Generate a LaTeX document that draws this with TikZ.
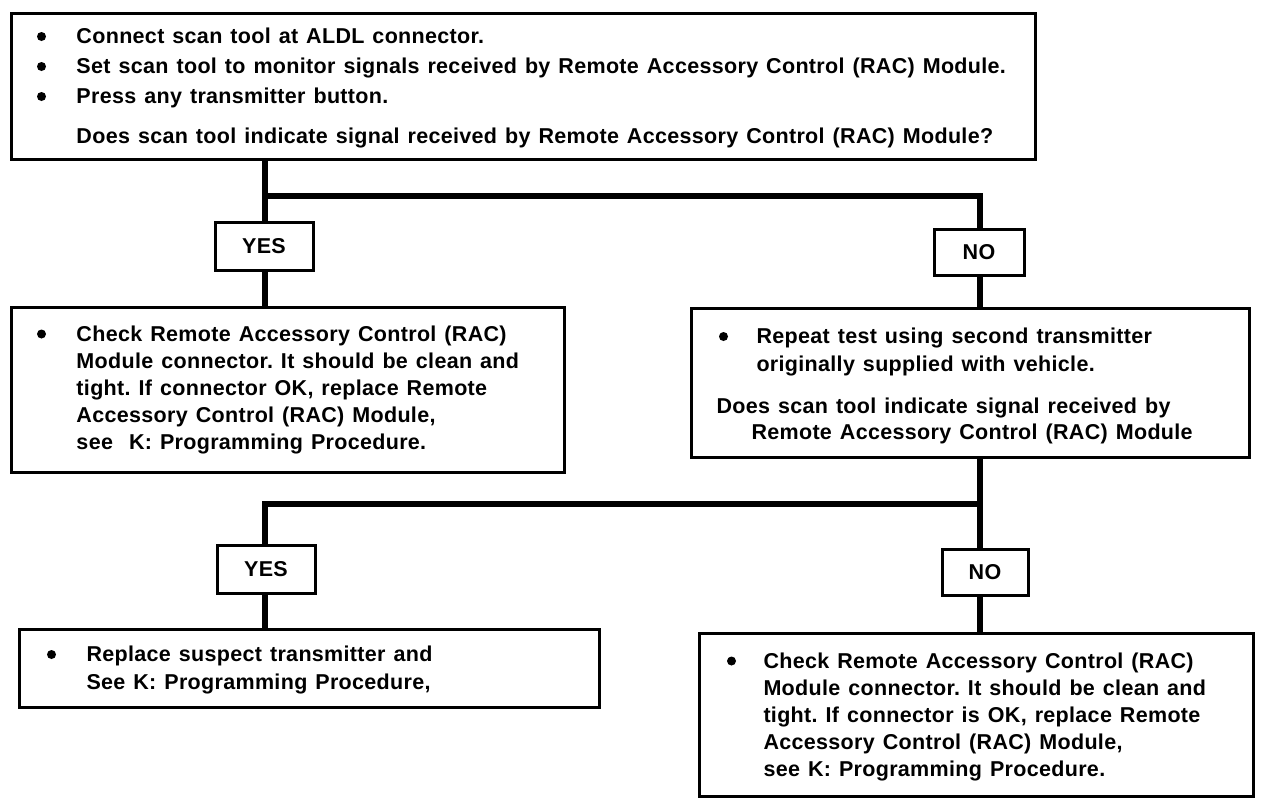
\documentclass[tikz,border=0pt]{standalone}
\usepackage{fontspec}
\setmainfont{Liberation Sans}[LetterSpace=1.5]
\newcommand\bl[1][39.5pt]{\makebox[#1][l]{\raisebox{2.5pt}{\tikz\fill (4.5pt,0pt) circle[radius=4.5pt];}}}
\newcommand\tops[1]{\rule{0pt}{#1pt}}
\newcommand\bots[1]{\rule[-#1pt]{0pt}{#1pt}}
\begin{document}
\begin{tikzpicture}[x=1pt,y=-1pt,
  every node/.style={execute at begin node={\frenchspacing\spaceskip=8pt plus 2pt minus 1pt}},
  box/.style={draw, line width=3pt, anchor=north west, inner ysep=0pt, align=left,
              font=\bfseries\fontsize{21.5}{27}\selectfont},
  tag/.style={draw, line width=3pt, minimum width=98pt, minimum height=48pt, inner sep=0pt,
              font=\bfseries\fontsize{21.5}{23}\selectfont},
  link/.style={line width=6pt}]
\useasboundingbox (0,0) rectangle (1280,806);

% top question box
\node[box, minimum width=1024pt, minimum height=146pt, inner xsep=25.5pt, text width=973pt] (top) at (10,12)
  {\tops{23}\bl Connect scan tool at ALDL connector.\\[3pt]
   \bl Set scan tool to monitor signals received by Remote Accessory Control (RAC) Module.\\[3pt]
   \bl Press any transmitter button.\\[13pt]
   \hspace*{39.5pt}Does scan tool indicate signal received by Remote Accessory Control (RAC) Module?\bots{9}};

\node[tag] (yes1) at (264,246) {YES};
\node[tag, minimum width=90pt, minimum height=46pt] (no1) at (979,252.5) {NO};

\node[box, minimum width=553pt, minimum height=165pt, inner xsep=25.5pt, text width=502pt] (lb1) at (10,306)
  {\tops{19}\bl Check Remote Accessory Control (RAC)\\
   \hspace*{39.5pt}Module connector. It should be clean and\\
   \hspace*{39.5pt}tight. If connector OK, replace Remote\\
   \hspace*{39.5pt}Accessory Control (RAC) Module,\\
   \hspace*{39.5pt}see\ \ K: Programming Procedure.\bots{9}};

\node[box, minimum width=558pt, minimum height=149pt, inner xsep=27.5pt, text width=503pt] (rb1) at (690,307)
  {\tops{26}\bl[37.5pt]Repeat test using second transmitter\\[1pt]
   \hspace*{37.5pt}originally supplied with vehicle.\\[15pt]
   \hspace*{-2.5pt}Does scan tool indicate signal received by\\[-1pt]
   \hspace*{32.5pt}Remote Accessory Control (RAC) Module\bots{9}};

\node[tag] (yes2) at (266,569) {YES};
\node[tag, minimum width=86pt, minimum height=46pt] (no2) at (985,572.5) {NO};

\node[box, minimum width=580pt, minimum height=78pt, inner xsep=27.5pt, text width=525pt] (lb2) at (18,628)
  {\tops{23}\bl Replace suspect transmitter and\\[1pt]
   \hspace*{39.5pt}See K: Programming Procedure,\bots{9}};

\node[box, minimum width=554pt, minimum height=163pt, inner xsep=27.5pt, text width=499pt] (rb2) at (698,632)
  {\tops{23}\bl[36.5pt]Check Remote Accessory Control (RAC)\\
   \hspace*{36.5pt}Module connector. It should be clean and\\
   \hspace*{36.5pt}tight. If connector is OK, replace Remote\\
   \hspace*{36.5pt}Accessory Control (RAC) Module,\\
   \hspace*{36.5pt}see K: Programming Procedure.\bots{9}};

% connectors
\coordinate (j1) at (265,196);
\coordinate (j2) at (980,504);
\draw[link] (top.south -| j1) -- (j1 |- yes1.north);
\draw[link] (j1) -| (no1.north -| j2);
\draw[link] (yes1.south -| j1) -- (j1 |- lb1.north);
\draw[link] (no1.south -| j2) -- (j2 |- rb1.north);
\draw[link] (rb1.south -| j2) -- (j2 |- no2.north);
\draw[link] (j2) -| (j1 |- yes2.north);
\draw[link] (yes2.south -| j1) -- (j1 |- lb2.north);
\draw[link] (no2.south -| j2) -- (j2 |- rb2.north);
\end{tikzpicture}
\end{document}
